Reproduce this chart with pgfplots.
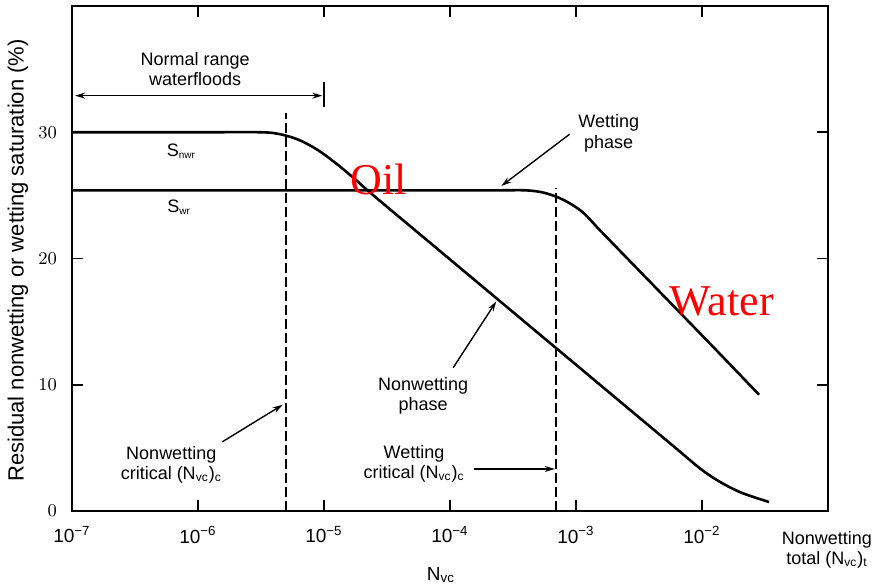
\documentclass[border=0pt]{standalone}
\usepackage{fontspec}
\setmainfont{Liberation Sans}
\newfontfamily\redserif{Liberation Serif}
\usepackage{pgfplots}
\usepackage{pgfplotstable}
\pgfplotsset{compat=1.18}
\usetikzlibrary{arrows.meta}

% nonwetting (oil) residual saturation
\pgfplotstableread{
x y
1e-7 30
1e-6 30
3.16e-6 30
4.47e-6 29.85
6.31e-6 29.4
8.91e-6 28.6
1.26e-5 27.5
1.78e-5 26.25
2.51e-5 24.94
1e-4 19.93
3.16e-4 15.76
1e-3 11.59
3.16e-3 7.42
6.10e-3 5.04
1.0e-2 3.25
1.44e-2 2.22
2.08e-2 1.43
3.41e-2 0.71
}\oiltable

% wetting (water) residual saturation
\pgfplotstableread{
x y
1e-7 25.4
1e-5 25.4
2e-4 25.4
3.98e-4 25.4
5.62e-4 25.2
7.94e-4 24.65
1.12e-3 23.7
1.58e-3 22.15
3.16e-3 19.06
6.31e-3 15.97
1.26e-2 12.88
2.84e-2 9.21
}\watertable

\begin{document}
\begin{tikzpicture}[font=\fontsize{9}{10.2}\selectfont]
\begin{axis}[
  scale only axis,
  width=378pt, height=252.5pt,
  xmode=log,
  xmin=1e-7, xmax=1e-1,
  ymin=0, ymax=40,
  xtick={1e-7,1e-6,1e-5,1e-4,1e-3,1e-2},
  xticklabels={10\textsuperscript{−7},10\textsuperscript{−6},10\textsuperscript{−5},10\textsuperscript{−4},10\textsuperscript{−3},10\textsuperscript{−2}},
  xminorticks=false,
  ytick={0,10,20,30},
  tick align=inside,
  major tick length=5.5pt,
  axis line style={line width=1.1pt},
  every tick/.style={black, line width=0.9pt},
  xticklabel style={font=\fontsize{9.5}{11}\selectfont, yshift=-4pt},
  yticklabel style={font=\fontsize{9.5}{11}\selectfont, xshift=-4pt},
  ylabel={Residual nonwetting or wetting saturation (\%)},
  ylabel style={at={(axis description cs:-0.0714,0.496)}, anchor=center, font=\fontsize{11}{12}\selectfont},
  xlabel={N\textsubscript{vc}},
  xlabel style={at={(axis description cs:0.488,-0.127)}, anchor=center, font=\fontsize{9.5}{11}\selectfont},
  clip=false,
]
\addplot[black, line width=1.3pt, smooth, tension=0.5] table {\oiltable};
\addplot[black, line width=1.3pt, smooth, tension=0.5] table {\watertable};

% critical capillary numbers
\addplot[black, line width=1pt, dash pattern=on 5pt off 2pt] coordinates {(4.97e-6,0) (4.97e-6,31.5)};
\addplot[black, line width=1pt, dash pattern=on 5pt off 2pt] coordinates {(7.0e-4,0) (7.0e-4,25.6)};

% normal range of waterfloods
\draw[line width=0.7pt, {Stealth[length=5pt,width=3pt]}-{Stealth[length=5pt,width=3pt]}]
  (axis cs:1.06e-7,32.9) -- (axis cs:9.7e-6,32.9);
\draw[line width=0.9pt] (axis cs:1e-5,32.0) -- (axis cs:1e-5,34.0);
\node[align=center] at (axis cs:9.5e-7,35.0) {Normal range\\waterfloods};

% curve labels
\node at (axis cs:7.4e-7,28.5) {S\textsubscript{\fontsize{5}{6}\selectfont nwr}};
\node at (axis cs:7.1e-7,24.05) {S\textsubscript{\fontsize{5}{6}\selectfont wr}};
\node[text=red, font=\redserif\fontsize{22}{24}\selectfont] at (axis cs:2.73e-5,26.3) {Oil};
\node[text=red, font=\redserif\fontsize{22}{24}\selectfont] at (axis cs:1.44e-2,16.6) {Water};

% annotations with arrows
\node[align=center] at (axis cs:1.82e-3,29.9) {Wetting\\phase};
\draw[line width=0.7pt, -{Stealth[length=5pt,width=3pt]}] (axis cs:8.89e-4,29.84) -- (axis cs:2.56e-4,25.75);

\node[align=center] at (axis cs:6.12e-5,9.13) {Nonwetting\\phase};
\draw[line width=0.7pt, -{Stealth[length=5pt,width=3pt]}] (axis cs:1.06e-4,11.35) -- (axis cs:2.33e-4,16.6);

\node[align=center] at (axis cs:5.19e-5,3.73) {Wetting\\critical (N\textsubscript{vc})\textsubscript{c}};
\draw[line width=0.7pt, -{Stealth[length=5pt,width=3pt]}] (axis cs:1.56e-4,3.33) -- (axis cs:6.8e-4,3.33);

\node[align=center] at (axis cs:6.14e-7,3.65) {Nonwetting\\critical (N\textsubscript{vc})\textsubscript{c}};
\draw[line width=0.7pt, -{Stealth[length=5pt,width=3pt]}] (axis cs:1.56e-6,5.48) -- (axis cs:4.7e-6,8.41);

\node[align=center] at (axis description cs:0.9987,-0.077) {Nonwetting\\total (N\textsubscript{vc})\textsubscript{t}};

\coordinate (bbl) at (rel axis cs:-0.0952,-0.1426);
\coordinate (btr) at (rel axis cs:1.0688,1.0119);
\end{axis}
\pgfresetboundingbox
\path (bbl) rectangle (btr);
\end{tikzpicture}
\end{document}
